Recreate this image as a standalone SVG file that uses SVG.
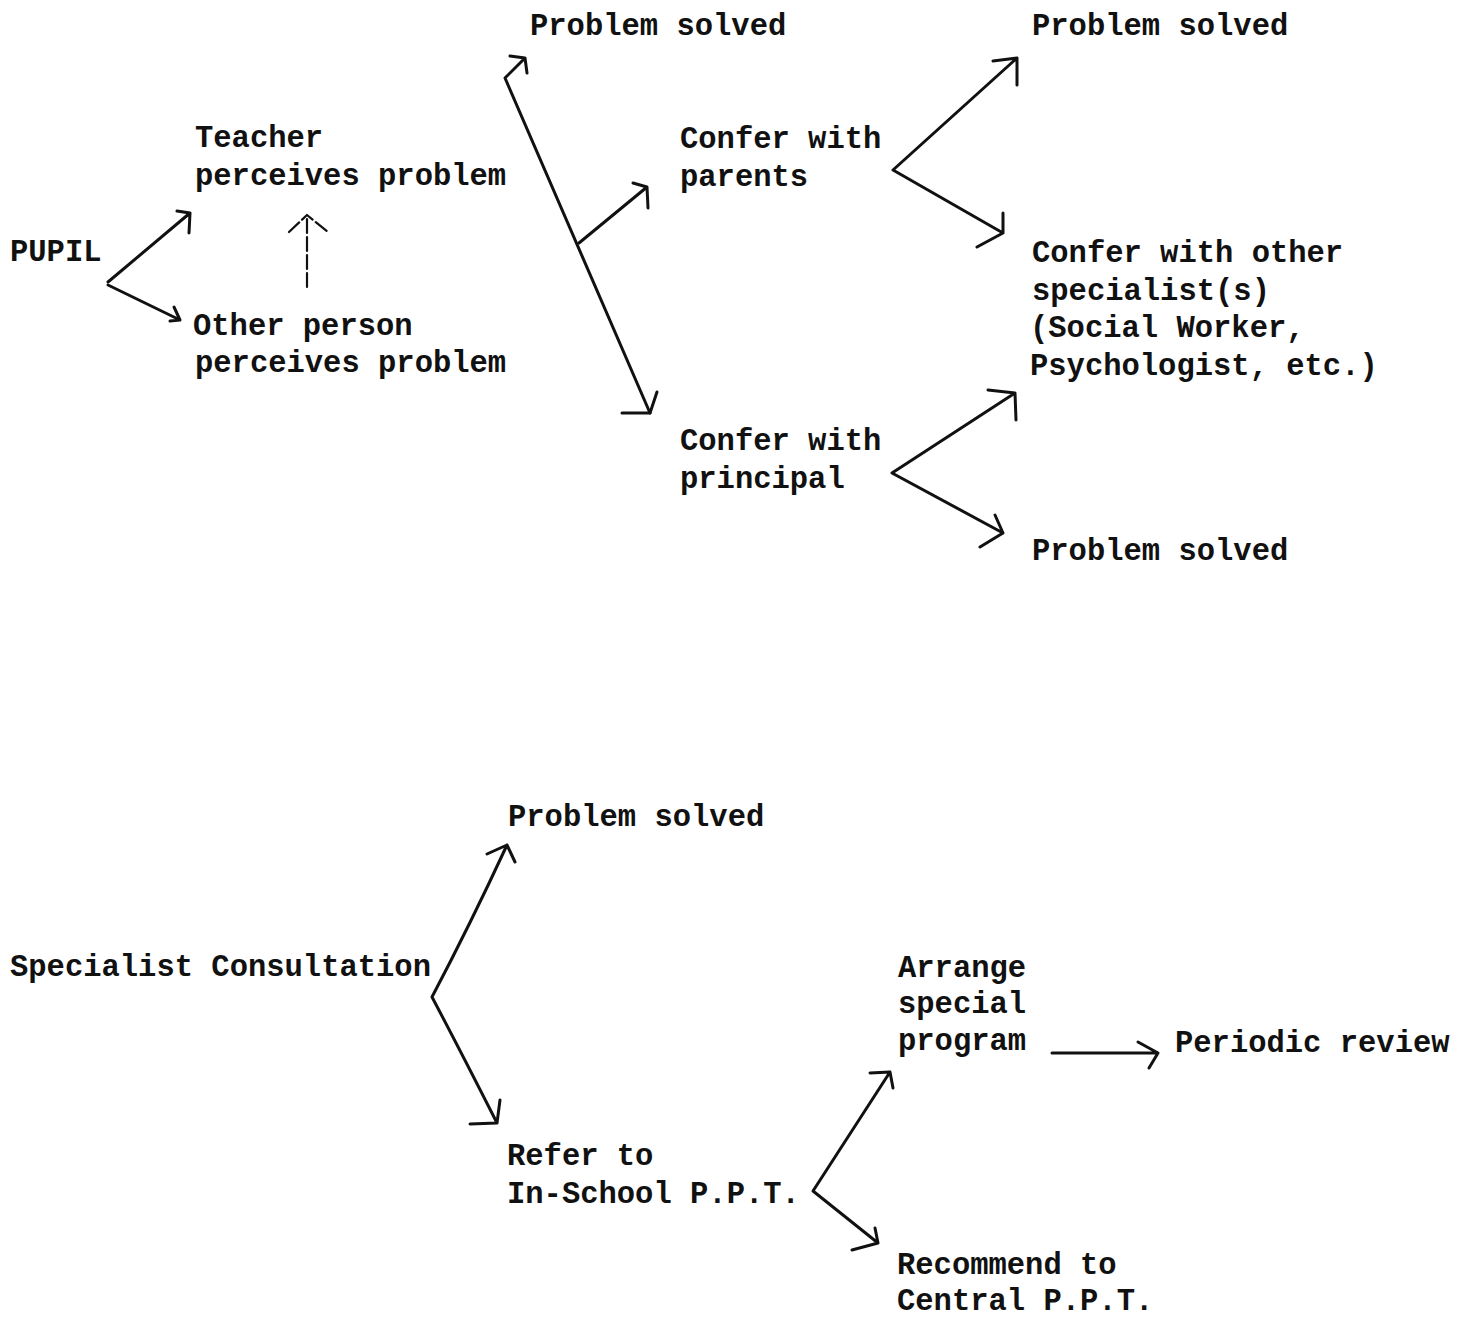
<svg xmlns="http://www.w3.org/2000/svg" width="1466" height="1317" viewBox="0 0 1466 1317">
<style>
text{font-family:"Liberation Mono","DejaVu Sans Mono",monospace;font-size:30.5px;font-weight:bold;fill:#111}
.c{fill:none;stroke:#111;stroke-width:3;stroke-linecap:round;stroke-linejoin:round}
.t{stroke-width:2.2}
.d{stroke-dasharray:14 4}
</style>
<rect width="1466" height="1317" fill="#fff"/>
<g id="n-ps1"><text x="530" y="35">Problem solved</text></g>
<g id="n-ps2"><text x="1032" y="35">Problem solved</text></g>
<g id="n-teacher"><text x="195" y="147">Teacher</text><text x="195" y="185">perceives problem</text></g>
<g id="n-parents"><text x="680" y="148">Confer with</text><text x="680" y="186">parents</text></g>
<g id="n-pupil"><text x="10" y="261">PUPIL</text></g>
<g id="n-specialists"><text x="1032" y="262">Confer with other</text><text x="1032" y="300">specialist(s)</text><text x="1030" y="337">(Social Worker,</text><text x="1030" y="375">Psychologist, etc.)</text></g>
<g id="n-other"><text x="193" y="335">Other person</text><text x="195" y="372">perceives problem</text></g>
<g id="n-principal"><text x="680" y="450">Confer with</text><text x="680" y="488">principal</text></g>
<g id="n-ps3"><text x="1032" y="560">Problem solved</text></g>
<g id="n-ps4"><text x="508" y="826">Problem solved</text></g>
<g id="n-consult"><text x="10" y="976">Specialist Consultation</text></g>
<g id="n-arrange"><text x="898" y="977">Arrange</text><text x="898" y="1013">special</text><text x="898" y="1050">program</text></g>
<g id="n-review"><text x="1175" y="1052">Periodic review</text></g>
<g id="n-refer"><text x="507" y="1165">Refer to</text><text x="507" y="1203">In-School P.P.T.</text></g>
<g id="n-central"><text x="897" y="1274">Recommend to</text><text x="897" y="1310">Central P.P.T.</text></g>
<g id="connectors">
<path class="c" d="M108,282 L190,213 M177,211 L190,213 L189,233"/>
<path class="c" d="M108,285 L180,320 M174,307 L180,320 L170,321"/>
<path class="c t d" d="M307,287 L307,215 M289,232 L307,215 L328,232"/>
<path class="c" d="M650,413 L505,78 L525,58 M510,56 L525,58 L527,73"/>
<path class="c" d="M622,413 L650,413 L657,392"/>
<path class="c" d="M579,243 L647,187 M633,183 L647,187 L648,208"/>
<path class="c" d="M1017,58 L893,170 L1003,233 M993,61 L1017,58 L1017,85 M1003,213 L1003,233 L977,247"/>
<path class="c" d="M1015,393 L892,473 L1003,533 M988,390 L1015,393 L1016,420 M995,515 L1003,533 L980,547"/>
<path class="c" d="M507,845 Q470,925 432,997 Q460,1050 497,1123 M487,854 L507,845 L515,862 M470,1124 L497,1123 L500,1100"/>
<path class="c" d="M890,1072 L813,1191 L878,1243 M870,1073 L890,1072 L893,1088 M875,1228 L878,1243 L852,1250"/>
<path class="c" d="M1052,1053 L1158,1053 M1138,1042 L1158,1053 L1149,1068"/>
</g>
</svg>
